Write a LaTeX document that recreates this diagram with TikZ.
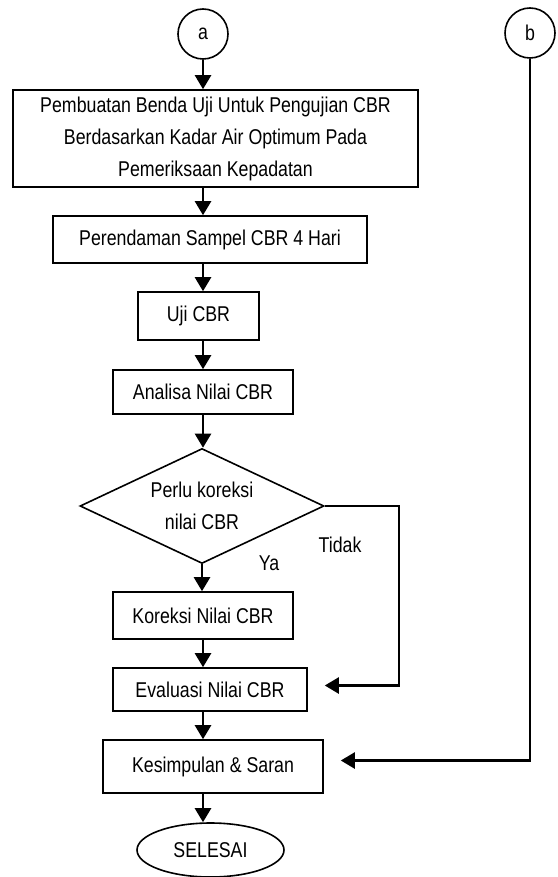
\documentclass[tikz,border=0pt]{standalone}
\usepackage{fontspec}
\setmainfont{Liberation Sans}[FakeStretch=0.83]
\usetikzlibrary{shapes.geometric,arrows.meta}

\begin{document}
\begin{tikzpicture}[x=0.5pt,y=-0.5pt,
    font=\fontsize{10.7}{16}\selectfont,
    kotak/.style={draw,line width=0.8pt,align=center,inner sep=1pt},
    konektor/.style={draw,circle,line width=0.8pt,minimum size=25pt,inner sep=0pt},
    panah/.style={-{Triangle[length=7pt,width=8pt]},line width=1.2pt}]
    \useasboundingbox (0,0) rectangle (557,877);

    % --- 1. Konektor halaman (a dan b) ---
    \node[konektor] (a) at (203,34) {a};
    \node[konektor] (b) at (530,33) {b};

    % --- 2. Kotak proses ---
    \node[kotak,minimum width=202.5pt,minimum height=48.5pt] (buat) at (215.5,138.5)
        {Pembuatan Benda Uji Untuk Pengujian CBR\\Berdasarkan Kadar Air Optimum Pada\\Pemeriksaan Kepadatan};
    \node[kotak,minimum width=157pt,minimum height=23.5pt] (rendam) at (210,239.5) {Perendaman Sampel CBR 4 Hari};
    \node[kotak,minimum width=60.5pt,minimum height=24pt] (uji) at (198.5,316) {Uji CBR};
    \node[kotak,minimum width=90pt,minimum height=22pt] (analisa) at (203,392) {Analisa Nilai CBR};

    % --- 3. Keputusan ---
    \node[draw,diamond,line width=0.8pt,aspect=2.1,inner sep=1pt,align=center,
          minimum width=122pt,minimum height=57.5pt] (cek) at (202,506) {Perlu koreksi\\nilai CBR};
    \node (tidak) at (340,545) {Tidak};
    \node (ya) at (269,563) {Ya};

    \node[kotak,minimum width=90pt,minimum height=23.5pt] (koreksi) at (203,615.5) {Koreksi Nilai CBR};
    \node[kotak,minimum width=97pt,minimum height=21.5pt] (evaluasi) at (210,689.5) {Evaluasi Nilai CBR};
    \node[kotak,minimum width=110pt,minimum height=26.5pt] (simpul) at (213,766.5) {Kesimpulan \& Saran};

    % --- 4. Terminal ---
    \node[draw,ellipse,line width=0.8pt,minimum width=73.5pt,minimum height=27pt] (selesai) at (210.5,850) {SELESAI};

    % --- 5. Panah alur utama ---
    \draw[panah] (a) -- (a |- buat.north);
    \draw[panah] (buat.south -| a) -- (a |- rendam.north);
    \draw[panah] (rendam.south -| a) -- (a |- uji.north);
    \draw[panah] (uji.south -| a) -- (a |- analisa.north);
    \draw[panah] (analisa.south -| a) -- (a |- cek.north);
    \draw[panah] (cek.south) -- (cek.south |- koreksi.north);
    \draw[panah] (koreksi.south -| a) -- (a |- evaluasi.north);
    \draw[panah] (evaluasi.south -| a) -- (a |- simpul.north);
    \draw[panah] (simpul.south -| a) -- (a |- selesai.north);

    % --- 6. Cabang Tidak dan konektor b ---
    \coordinate (ujungtidak) at ([xshift=8.5pt,yshift=2pt]evaluasi.east);
    \coordinate (ujungb) at ([xshift=8.5pt,yshift=3pt]simpul.east);
    \draw[panah] (cek.east) -- ++(74,0) |- (ujungtidak);
    \draw[panah] (b) |- (ujungb);

\end{tikzpicture}
\end{document}
